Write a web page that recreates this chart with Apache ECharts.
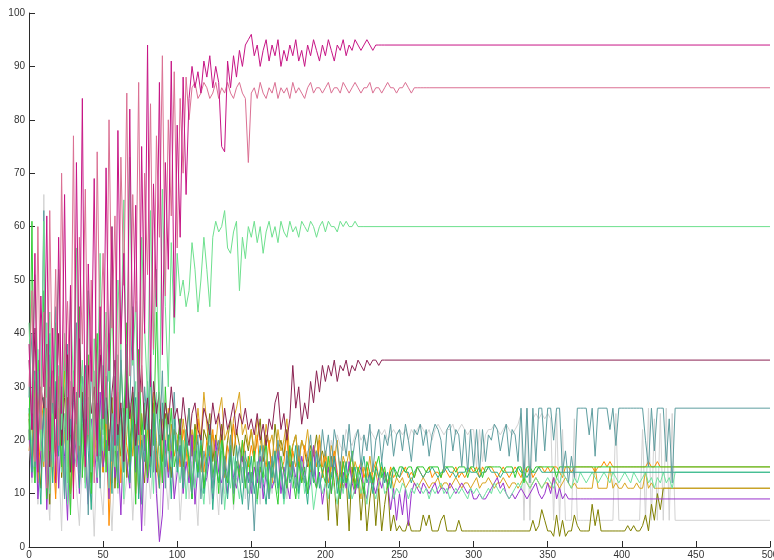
<!DOCTYPE html>
<html>
<head>
<meta charset="utf-8">
<script src="https://cdn.jsdelivr.net/npm/echarts@6/dist/echarts.min.js"></script>
<style>
  html, body { margin: 0; padding: 0; background: #ffffff; }
  #chart { width: 774px; height: 560px; }
</style>
</head>
<body>
<div id="chart"></div>
<script>
// Sample spacing of every run below (iteration step)
const STEP = 2;

// Axis ticks
const xTicks = [0, 50, 100, 150, 200, 250, 300, 350, 400, 450, 500];
const yTicks = [0, 10, 20, 30, 40, 50, 60, 70, 80, 90, 100];

// Each run: values sampled every STEP iterations from 0, then the settled value held to 500
const runVioletRed = [
  38, 22, 55, 14, 47, 30, 62, 18, 41, 12, 58, 25, 66, 20, 49, 9, 72, 28, 84, 15, 53, 31, 69, 17, 45,
  24, 71, 33, 60, 19, 78, 38, 55, 26, 82, 35, 64, 21, 75, 40, 94, 30, 68, 45, 87, 36, 72, 52, 91, 43,
  79, 58, 88, 66, 84, 90, 86, 89, 85, 91, 88, 92, 86, 90, 87, 75, 74, 91, 86, 92, 88, 93, 90, 94, 95,
  96, 92, 94, 90, 93, 95, 91, 94, 92, 95, 90, 93, 91, 94, 92, 95, 91, 93, 90, 94, 92, 95, 93, 91, 94,
  92, 95, 93, 91, 94, 93, 95, 92, 94, 93, 95, 94, 93, 94, 95, 94, 93, 94, 94, 94, 94
];
const endVioletRed = 94;

const runPaleViolet = [
  30, 48, 16, 60, 22, 44, 11, 63, 27, 52, 19, 70, 33, 46, 24, 77, 15, 58, 38, 67, 21, 50, 12, 74, 36,
  55, 28, 80, 41, 62, 23, 73, 49, 85, 32, 66, 44, 87, 29, 70, 51, 83, 37, 77, 58, 92, 47, 80, 62, 89,
  56, 84, 70, 88, 80, 86, 87, 84, 85, 87, 86, 84, 85, 87, 84, 86, 85, 87, 85, 84, 86, 87, 85, 84, 72,
  85, 86, 84, 87, 85, 84, 86, 85, 87, 84, 86, 85, 86, 84, 87, 85, 86, 85, 84, 86, 87, 85, 86, 86, 85,
  86, 87, 85, 86, 86, 85, 87, 86, 85, 86, 87, 86, 85, 86, 86, 87, 85, 86, 86, 85, 86, 87, 86, 86, 85,
  86, 86, 87, 86, 85, 86, 86, 86, 86, 86, 86
];
const endPaleViolet = 86;

const runSpring = [
  42, 25, 51, 33, 18, 61, 28, 44, 15, 37, 52, 22, 40, 12, 47, 30, 56, 19, 35, 24, 48, 14, 39, 27, 55,
  21, 44, 31, 60, 18, 50, 37, 65, 25, 73, 34, 46, 20, 58, 41, 28, 63, 36, 52, 24, 67, 45, 30, 57, 40,
  55, 47, 50, 45, 48, 57, 52, 44, 50, 58, 52, 45, 58, 61, 59, 60, 63, 56, 55, 59, 61, 48, 58, 54, 60,
  58, 61, 57, 60, 55, 59, 61, 58, 60, 57, 61, 59, 58, 61, 59, 60, 58, 61, 60, 59, 61, 60, 58, 60, 61,
  59, 61, 60, 60, 59, 61, 60, 61, 60, 60, 61, 60, 60, 60
];
const endSpring = 60;

const runMaroon = [
  35, 22, 41, 18, 30, 26, 38, 15, 33, 24, 40, 19, 28, 36, 14, 31, 23, 39, 27, 17, 34, 25, 30, 20, 37,
  22, 32, 18, 29, 35, 21, 27, 16, 33, 24, 30, 19, 26, 34, 22, 28, 17, 31, 25, 29, 20, 27, 23, 30, 24,
  26, 21, 28, 23, 19, 25, 27, 22, 20, 26, 24, 21, 27, 23, 25, 20, 26, 22, 24, 27, 21, 25, 23, 26, 22,
  24, 21, 25, 20, 23, 19, 24, 22, 27, 29, 22, 25, 20, 24, 34, 26, 30, 23, 27, 24, 31, 27, 33, 29, 34,
  31, 34, 32, 35, 31, 34, 33, 35, 32, 34, 33, 35, 34, 33, 35, 34, 35, 35, 34, 35, 35
];
const endMaroon = 35;

const runCadet = [
  28, 40, 15, 33, 22, 63, 12, 36, 25, 45, 18, 30, 9, 38, 21, 27, 42, 14, 32, 24, 6, 35, 19, 29, 11,
  34, 23, 40, 16, 28, 12, 37, 20, 31, 26, 45, 17, 24, 8, 30, 22, 36, 14, 27, 19, 33, 11, 25, 18, 29,
  15, 22, 12, 19, 26, 10, 17, 21, 9, 18, 14, 23, 11, 16, 20, 8, 17, 13, 21, 10, 15, 19, 12, 18, 7,
  14, 3, 16, 11, 19, 13, 9, 17, 12, 20, 15, 10, 18, 13, 16, 11, 19, 14, 12, 17, 21, 13, 18, 15, 22,
  17, 21, 15, 22, 19, 14, 21, 17, 23, 16, 20, 22, 15, 21, 18, 23, 14, 20, 22, 16, 21, 19, 23, 17, 21,
  22, 18, 23, 20, 16, 22, 21, 23, 19, 22, 17, 21, 23, 22, 20, 14, 22, 23, 18, 22, 21, 15, 22, 14, 22,
  15, 22, 14, 22, 16, 21, 20, 23, 22, 18, 21, 23, 17, 22, 21, 16, 26, 13, 26, 12, 26, 16, 26, 26, 18,
  26, 26, 20, 26, 26, 14, 18, 12, 17, 13, 26, 26, 26, 26, 21, 26, 17, 26, 26, 26, 26, 22, 26, 19, 26,
  26, 26, 26, 26, 26, 26, 26, 26, 20, 15, 26, 18, 26, 26, 26, 16, 24, 12, 26
];
const endCadet = 26;

const runGray = [
  20, 12, 25, 8, 18, 66, 14, 5, 22, 10, 17, 3, 24, 13, 7, 19, 11, 4, 16, 21, 9, 15, 2, 18, 12,
  6, 20, 14, 3, 17, 10, 22, 8, 13, 19, 5, 15, 11, 23, 4, 16, 9, 18, 12, 2, 20, 14, 7, 17, 10,
  18, 5, 14, 20, 9, 16, 12, 4, 19, 11, 15, 8, 21, 13, 6, 17, 10, 14, 19, 7, 15, 12, 18, 9, 16,
  11, 17, 14, 8, 19, 13, 16, 10, 18, 12, 15, 20, 9, 17, 14, 11, 19, 13, 16, 18, 12, 17, 15, 19, 14,
  18, 16, 20, 17, 21, 19, 18, 22, 20, 19, 21, 22, 20, 21, 19, 22, 21, 20, 22, 21, 22, 20, 21, 22, 21,
  22, 21, 22, 20, 22, 21, 22, 23, 22, 21, 22, 20, 22, 23, 22, 21, 22, 22, 23, 21, 22, 23, 22, 21, 22,
  22, 15, 22, 16, 21, 22, 22, 23, 22, 21, 22, 23, 22, 21, 22, 23, 25, 5, 26, 5, 24, 25, 24, 25, 24,
  25, 24, 5, 25, 5, 22, 5, 5, 5, 24, 5, 5, 5, 5, 5, 5, 5, 5, 5, 5, 5, 5, 5, 25, 5,
  5, 5, 5, 5, 5, 5, 5, 22, 5, 26, 5, 24, 5, 25, 5, 26, 5, 25, 5
];
const endGray = 5;

const runLime = [
  20, 61, 12, 35, 24, 48, 9, 30, 18, 42, 27, 15, 38, 22, 6, 33, 19, 45, 13, 28, 36, 10, 25, 40, 17,
  31, 14, 26, 50, 20, 11, 35, 23, 42, 16, 29, 8, 37, 21, 27, 13, 33, 19, 44, 24, 12, 30, 18, 26, 15,
  18, 24, 12, 20, 16, 9, 22, 14, 19, 11, 17, 23, 13, 18, 10, 21, 15, 12, 19, 8, 16, 13, 20, 11, 17,
  12, 18, 9, 15, 13, 20, 10, 16, 12, 8, 17, 14, 11, 19, 13, 9, 16, 12, 15, 10, 18, 13, 11, 16, 14,
  12, 17, 10, 15, 13, 9, 16, 12, 14, 18, 11, 15, 13, 10, 16, 14, 12, 15, 17, 13, 15, 11, 14, 15, 13,
  15, 15, 14, 15, 15, 13, 15, 15, 15, 14, 15, 15, 15, 15, 13, 15, 15, 15, 15, 14, 15, 15, 15, 13, 15,
  15, 14, 15, 13, 15, 15, 15, 15, 15, 15, 14, 15, 15, 15, 13, 15, 15, 12, 15, 15, 14, 15, 15, 15, 15,
  15, 15, 15, 13, 15
];
const endLime = 15;

const runSeaGreen = [
  26, 14, 33, 19, 8, 28, 22, 40, 12, 31, 17, 25, 9, 36, 21, 15, 29, 11, 24, 34, 18, 7, 27, 20, 13,
  29, 17, 22, 10, 32, 19, 26, 14, 38, 12, 23, 28, 9, 20, 16, 31, 13, 25, 18, 11, 27, 15, 21, 9, 24,
  14, 19, 11, 22, 16, 9, 18, 13, 21, 10, 15, 19, 7, 16, 12, 20, 14, 9, 17, 11, 19, 13, 8, 16, 12,
  17, 10, 14, 19, 12, 8, 16, 13, 18, 11, 15, 9, 17, 12, 14, 19, 10, 15, 13, 8, 16, 12, 18, 11, 14,
  16, 11, 13, 17, 10, 14, 12, 16, 9, 13, 15, 11, 14, 17, 12, 14, 10, 15, 13, 16, 12, 14, 11, 15, 14,
  13, 15, 14, 14, 12, 14, 15, 14, 13, 14, 14, 15, 14, 13, 14, 14, 15, 14, 14, 13, 14, 14, 14, 15, 14,
  14, 14, 13, 14, 14, 15, 14, 14, 14, 13, 14, 14, 14, 14, 14, 15, 14, 14, 13, 14, 14, 14, 15, 14, 14
];
const endSeaGreen = 14;

const runOlive = [
  24, 15, 30, 19, 11, 27, 21, 8, 25, 17, 32, 13, 22, 28, 10, 20, 26, 14, 29, 18, 23, 12, 27, 16, 21,
  14, 25, 19, 28, 11, 22, 17, 26, 13, 20, 24, 15, 29, 18, 12, 23, 19, 27, 14, 21, 16, 25, 20, 13, 22,
  18, 24, 15, 21, 26, 17, 23, 19, 14, 22, 20, 25, 16, 21, 18, 23, 15, 20, 24, 17, 22, 19, 16, 21, 18,
  22, 17, 20, 24, 16, 21, 19, 15, 23, 18, 20, 17, 22, 14, 19, 21, 16, 20, 18, 15, 19, 17, 21, 16, 18,
  15, 5, 17, 12, 4, 16, 11, 13, 3, 15, 10, 14, 5, 12, 3, 9, 13, 4, 11, 3, 8, 12, 3, 6, 3,
  4, 3, 3, 5, 3, 3, 3, 3, 6, 4, 6, 3, 3, 3, 5, 6, 3, 3, 3, 3, 5, 3, 3, 3, 3,
  3, 3, 3, 3, 3, 3, 3, 3, 3, 3, 3, 3, 3, 3, 3, 3, 3, 3, 3, 3, 5, 3, 4, 7, 5,
  3, 3, 2, 6, 2, 5, 2, 3, 3, 6, 4, 3, 3, 3, 3, 8, 4, 7, 3, 3, 3, 3, 3, 3, 3,
  3, 3, 4, 3, 4, 3, 3, 4, 6, 3, 8, 5, 10, 7, 11, 11
];
const endOlive = 11;

const runOrchid = [
  22, 13, 28, 9, 18, 25, 7, 20, 15, 30, 11, 23, 17, 5, 26, 14, 21, 10, 27, 16, 8, 24, 19, 12, 29,
  15, 20, 9, 25, 13, 18, 6, 22, 16, 11, 28, 14, 19, 3, 21, 12, 17, 24, 10, 1, 6, 20, 13, 18, 9,
  14, 19, 10, 16, 12, 21, 8, 15, 18, 11, 13, 17, 9, 20, 14, 12, 16, 10, 18, 13, 11, 15, 17, 12, 14,
  10, 15, 12, 17, 9, 14, 16, 11, 13, 18, 10, 15, 12, 9, 16, 13, 11, 17, 14, 10, 12, 19, 11, 14, 8,
  12, 15, 10, 17, 13, 9, 14, 11, 16, 12, 10, 13, 15, 11, 9, 14, 12, 10, 13, 11, 14, 12, 7, 11, 5,
  10, 6, 11, 4, 10, 12, 11, 10, 12, 11, 10, 11, 12, 10, 11, 11, 10, 12, 11, 10, 11, 12, 11, 10, 11,
  9, 9, 10, 9, 9, 10, 11, 12, 13, 11, 12, 10, 9, 10, 9, 10, 11, 10, 9, 10, 11, 12, 10, 9, 10,
  12, 10, 13, 9, 11, 9, 10, 9, 9, 9, 9, 9, 9, 9, 9, 9
];
const endOrchid = 9;

const runOrange = [
  25, 17, 31, 12, 22, 28, 14, 35, 19, 9, 26, 21, 33, 15, 24, 11, 29, 18, 23, 13, 27, 20, 16, 30, 22,
  14, 26, 4, 21, 17, 29, 12, 23, 19, 15, 27, 10, 22, 18, 25, 13, 20, 24, 16, 11, 21, 18, 14, 23, 17,
  20, 15, 22, 18, 13, 21, 16, 24, 19, 14, 20, 17, 22, 15, 18, 21, 13, 19, 16, 23, 18, 14, 20, 17, 15,
  19, 16, 21, 14, 18, 15, 20, 12, 17, 19, 14, 16, 21, 13, 18, 15, 17, 12, 19, 16, 14, 18, 15, 20, 13,
  17, 12, 15, 18, 14, 11, 16, 13, 15, 17, 12, 14, 16, 13, 15, 12, 14, 16, 13, 15, 14, 12, 15, 13, 14,
  13, 14, 15, 13, 14, 13, 15, 14, 13, 14, 15, 13, 14, 14, 13, 15, 14, 13, 14, 15, 13, 14, 13, 14, 15,
  14, 15, 13, 15, 14, 15, 15, 14, 13, 14, 15, 14, 13, 14, 15, 14, 13, 15, 14, 15, 13, 14, 15, 15, 14,
  15, 14, 15, 15, 14, 13, 15, 15, 14, 15, 15, 15, 15, 15, 15, 15, 14, 15, 15, 16, 15, 16, 15, 15, 15,
  15, 15, 15, 15, 15, 15, 15, 15, 15, 16, 15, 15, 16, 15, 15, 15, 15, 15, 15
];
const endOrange = 15;

const runGoldenrod = [
  18, 24, 13, 29, 20, 15, 26, 11, 22, 17, 31, 14, 21, 25, 10, 19, 27, 16, 23, 12, 28, 19, 15, 24, 20,
  26, 16, 22, 12, 28, 19, 24, 14, 21, 27, 17, 23, 10, 25, 18, 22, 15, 29, 20, 13, 24, 19, 26, 16, 22,
  21, 17, 24, 19, 15, 22, 18, 26, 20, 29, 23, 17, 21, 19, 25, 28, 20, 22, 18, 24, 26, 29, 21, 23, 19,
  22, 18, 24, 20, 17, 23, 19, 21, 16, 22, 18, 20, 24, 17, 19, 21, 15, 20, 18, 22, 16, 19, 17, 21, 15,
  18, 14, 19, 16, 20, 13, 17, 15, 18, 12, 16, 14, 9, 15, 13, 17, 12, 14, 11, 15, 13, 12, 14, 11, 13,
  12, 13, 11, 12, 13, 12, 11, 12, 13, 12, 11, 12, 12, 13, 11, 12, 12, 11, 12, 13, 12, 11, 12, 12, 11,
  12, 13, 11, 12, 12, 13, 12, 11, 12, 12, 13, 12, 11, 12, 12, 11, 12, 13, 12, 11, 12, 13, 12, 11, 12,
  12, 11, 13, 12, 11, 12, 13, 12, 11, 12, 11, 11, 11, 11, 11, 11, 15, 11, 11, 11, 11, 15, 11, 12, 11,
  11, 12, 11, 11, 11, 12, 11, 11, 14, 11, 12, 11, 11, 11, 11, 11
];
const endGoldenrod = 11;

const runMint = [
  30, 18, 12, 37, 23, 16, 42, 10, 27, 20, 34, 14, 25, 8, 31, 19, 15, 39, 22, 11, 28, 17, 33, 13, 24,
  18, 30, 11, 25, 15, 36, 20, 9, 27, 16, 23, 31, 12, 19, 26, 14, 22, 10, 29, 17, 13, 24, 19, 15, 21,
  16, 12, 20, 9, 17, 14, 11, 19, 13, 8, 16, 21, 10, 15, 12, 18, 7, 14, 11, 17, 13, 9, 15, 12, 10,
  14, 11, 8, 16, 12, 15, 9, 13, 17, 10, 14, 8, 12, 15, 11, 13, 9, 16, 10, 12, 14, 7, 11, 13, 10,
  12, 9, 14, 11, 8, 13, 10, 15, 12, 9, 11, 14, 10, 12, 8, 13, 11, 9, 12, 14, 10, 11, 13, 9, 11,
  10, 12, 11, 9, 11, 10, 12, 11, 10, 11, 9, 11, 10, 11, 12, 10, 11, 9, 10, 11, 10, 11, 10, 9, 11,
  10, 11, 10, 9, 10, 11, 10, 12, 11, 10, 11, 10, 9, 10, 11, 12, 11, 13, 12, 11, 12, 13, 12, 11, 12,
  13, 12, 11, 13, 12, 14, 13, 12, 11, 13, 12, 14, 13, 12, 13, 14, 13, 12, 13, 14, 13, 12, 14, 13, 12,
  13, 14, 13, 12, 14, 13, 12, 13, 14, 12, 13, 11, 13, 12, 14, 12, 13, 11, 14
];
const endMint = 14;

// Drawing order: first entries sit underneath
const runs = [
  { values: runGray, last: endGray, color: '#d3d3d3' },
  { values: runOlive, last: endOlive, color: '#808000' },
  { values: runGoldenrod, last: endGoldenrod, color: '#daa520' },
  { values: runOrange, last: endOrange, color: '#ff8c00' },
  { values: runOrchid, last: endOrchid, color: '#9932cc' },
  { values: runMint, last: endMint, color: '#6fe3a0' },
  { values: runSeaGreen, last: endSeaGreen, color: '#2eae8a' },
  { values: runLime, last: endLime, color: '#32cd32' },
  { values: runCadet, last: endCadet, color: '#5f9ea0' },
  { values: runMaroon, last: endMaroon, color: '#8b2252' },
  { values: runSpring, last: endSpring, color: '#6ee08e' },
  { values: runPaleViolet, last: endPaleViolet, color: '#db7093' },
  { values: runVioletRed, last: endVioletRed, color: '#c71585' }
];

function toPoints(values, last) {
  const pts = values.map((v, i) => [i * STEP, v]);
  pts.push([xTicks[xTicks.length - 1], last]);
  return pts;
}

const axisColor = '#2b2b2b';
const labelStyle = { color: '#333333', fontSize: 10, fontFamily: 'Liberation Sans, Arial, sans-serif' };

const chart = echarts.init(document.getElementById('chart'), null, { renderer: 'canvas' });
chart.setOption({
  animation: false,
  backgroundColor: '#ffffff',
  grid: { left: 29, right: 4, top: 13, bottom: 13, containLabel: false, outerBoundsMode: 'none' },
  xAxis: {
    type: 'value',
    min: xTicks[0],
    max: xTicks[xTicks.length - 1],
    interval: xTicks[1] - xTicks[0],
    axisLine: { show: true, onZero: false, lineStyle: { color: axisColor, width: 1 } },
    axisTick: { show: true, inside: true, length: 6, lineStyle: { color: axisColor } },
    axisLabel: Object.assign({ margin: 3 }, labelStyle),
    splitLine: { show: false }
  },
  yAxis: {
    type: 'value',
    min: yTicks[0],
    max: yTicks[yTicks.length - 1],
    interval: yTicks[1] - yTicks[0],
    axisLine: { show: true, onZero: false, lineStyle: { color: axisColor, width: 1 } },
    axisTick: { show: true, inside: true, length: 6, lineStyle: { color: axisColor } },
    axisLabel: Object.assign({ margin: 4 }, labelStyle),
    splitLine: { show: false }
  },
  series: runs.map(r => ({
    type: 'line',
    data: toPoints(r.values, r.last),
    showSymbol: false,
    symbol: 'none',
    silent: true,
    lineStyle: { color: r.color, width: 1 },
    itemStyle: { color: r.color }
  }))
});
</script>
</body>
</html>
